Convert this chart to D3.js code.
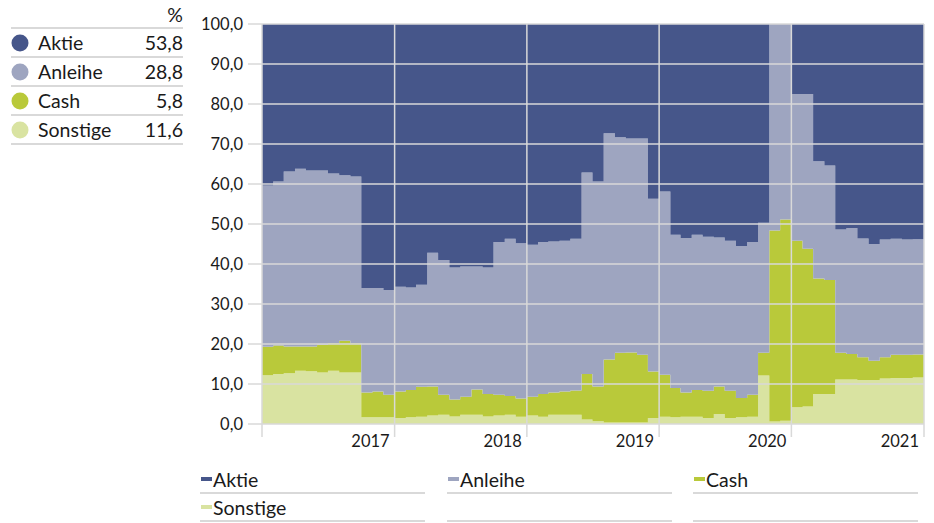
<!DOCTYPE html>
<html>
<head>
<meta charset="utf-8">
<script src="https://cdn.jsdelivr.net/npm/d3@7"></script>
<style>
  body { margin: 0; background: #fff; }
  svg { display: block; font-family: Lato, "Open Sans", sans-serif; }
</style>
</head>
<body>
<div id="chart"></div>
<script>
// monthly allocation in %, Jan 2016 .. Dec 2020
const keys = ['Aktie', 'Anleihe', 'Cash', 'Sonstige'];
const colors = ['#46568a', '#9ea5c0', '#b9c93a', '#d9e3a1'];
const latest = [53.8, 28.8, 5.8, 11.6];

const aktie = [
  40.4, 39.4, 36.9, 36.2, 36.6, 36.6, 37.4, 37.8, 38.1, 66.0, 66.0, 66.5,
  65.7, 65.9, 65.2, 57.2, 59.0, 60.9, 60.6, 60.6, 60.9, 54.5, 53.7, 54.8,
  55.2, 54.5, 54.4, 54.2, 53.7, 37.1, 39.4, 27.3, 28.3, 28.6, 28.6, 43.7,
  41.9, 52.7, 53.5, 52.7, 53.2, 53.4, 54.2, 55.5, 54.5, 49.7, 0.0, 0.0,
  17.5, 17.5, 34.3, 35.4, 51.4, 51.0, 53.6, 55.0, 53.9, 53.7, 53.9, 53.8
];
const anleihe = [
  40.3, 41.0, 43.7, 44.4, 44.0, 43.6, 42.4, 41.4, 41.7, 26.1, 25.9, 26.2,
  26.2, 25.6, 25.5, 33.4, 33.7, 33.0, 32.6, 30.8, 31.6, 38.2, 39.3, 38.8,
  38.0, 38.0, 37.7, 37.7, 37.9, 50.4, 51.2, 56.6, 53.9, 53.5, 54.1, 43.2,
  45.8, 38.3, 38.6, 38.8, 38.5, 37.2, 37.5, 38.0, 38.2, 32.5, 51.6, 48.9,
  36.7, 38.7, 29.3, 28.6, 30.8, 31.5, 29.7, 29.2, 29.4, 29.0, 28.8, 28.8
];
const cash = [
  7.1, 7.1, 6.7, 6.1, 6.2, 6.9, 6.9, 7.9, 7.3, 6.2, 6.4, 5.6,
  6.6, 6.8, 7.5, 7.3, 5.0, 4.2, 4.5, 6.3, 5.6, 5.2, 4.7, 4.6,
  4.7, 5.7, 5.6, 5.8, 6.1, 11.4, 8.7, 15.7, 17.4, 17.5, 16.9, 11.6,
  10.5, 7.3, 6.1, 6.7, 6.8, 6.9, 6.8, 4.8, 5.5, 5.7, 47.8, 50.3,
  41.6, 39.4, 28.9, 28.5, 6.7, 6.4, 5.7, 4.8, 5.3, 5.8, 5.8, 5.8
];
const sonstige = [
  12.2, 12.5, 12.7, 13.3, 13.2, 12.9, 13.3, 12.9, 12.9, 1.7, 1.7, 1.7,
  1.5, 1.7, 1.8, 2.1, 2.3, 1.9, 2.3, 2.3, 1.9, 2.1, 2.3, 1.8,
  2.1, 1.8, 2.3, 2.3, 2.3, 1.1, 0.7, 0.4, 0.4, 0.4, 0.4, 1.5,
  1.8, 1.7, 1.8, 1.8, 1.5, 2.5, 1.5, 1.7, 1.8, 12.1, 0.6, 0.8,
  4.2, 4.4, 7.5, 7.5, 11.1, 11.1, 11.0, 11.0, 11.4, 11.5, 11.5, 11.6
];
const yTicks = [0, 10, 20, 30, 40, 50, 60, 70, 80, 90, 100];

const W = 934, H = 523;
const plot = { left: 262, right: 924, top: 24, bottom: 424 };
const legendFont = '19.5px';

const locale = d3.formatLocale({ decimal: ',', thousands: '.', grouping: [3], currency: ['', ' €'] });
const fmt = locale.format('.1f');

const svg = d3.select('#chart').append('svg')
  .attr('width', W)
  .attr('height', H);

const start = new Date(2016, 0, 1);
const end = new Date(2021, 0, 1);
const months = d3.timeMonth.range(start, end);

const series = { Aktie: aktie, Anleihe: anleihe, Cash: cash, Sonstige: sonstige };
const rows = months.map((m, i) => {
  const r = { date: m };
  keys.forEach(k => r[k] = series[k][i]);
  return r;
});
// repeat last month so the step reaches the end of the axis
rows.push(Object.assign({}, rows[rows.length - 1], { date: end }));

const x = d3.scaleTime().domain([start, end]).range([plot.left, plot.right]);
const y = d3.scaleLinear().domain([0, 100]).range([plot.bottom, plot.top]);
const color = d3.scaleOrdinal().domain(keys).range(colors);

// bottom-up stacking: Sonstige, Cash, Anleihe, Aktie
const stack = d3.stack().keys(keys.slice().reverse());
const stacked = stack(rows);

const area = d3.area()
  .curve(d3.curveStepAfter)
  .x(d => x(d.data.date))
  .y0(d => y(Math.min(100, d[0])))
  .y1(d => y(Math.min(100, d[1])));

svg.append('g')
  .selectAll('path')
  .data(stacked)
  .join('path')
  .attr('fill', d => color(d.key))
  .attr('d', area);

// grid on top of the areas
const gridColor = '#d9d9d9';
svg.append('g')
  .selectAll('line')
  .data(yTicks)
  .join('line')
  .attr('x1', plot.left - 14)
  .attr('x2', plot.right)
  .attr('y1', d => y(d))
  .attr('y2', d => y(d))
  .attr('stroke', gridColor)
  .attr('stroke-width', 1.5);

const years = [start].concat(d3.timeYear.range(new Date(2017, 0, 1), d3.timeDay.offset(end, 1)));
svg.append('g')
  .selectAll('line')
  .data(years)
  .join('line')
  .attr('x1', d => x(d))
  .attr('x2', d => x(d))
  .attr('y1', plot.top)
  .attr('y2', plot.bottom + 13)
  .attr('stroke', gridColor)
  .attr('stroke-width', 1.5);

// y labels
svg.append('g')
  .selectAll('text')
  .data(yTicks)
  .join('text')
  .attr('x', 243)
  .attr('y', d => y(d))
  .attr('dy', '0.35em')
  .attr('text-anchor', 'end')
  .style('font-size', '16.5px')
  .style('fill', '#1a1a1a')
  .text(d => fmt(d));

// x labels, right-aligned against the year line
svg.append('g')
  .selectAll('text')
  .data(years.slice(1))
  .join('text')
  .attr('x', d => x(d) - 5)
  .attr('y', plot.bottom + 17)
  .attr('dy', '0.35em')
  .attr('text-anchor', 'end')
  .style('font-size', '16.5px')
  .style('fill', '#1a1a1a')
  .text(d => d.getFullYear());

// left legend table
const table = svg.append('g');
table.append('text')
  .attr('x', 183)
  .attr('y', 15)
  .attr('dy', '0.35em')
  .attr('text-anchor', 'end')
  .style('font-size', legendFont)
  .style('fill', '#1a1a1a')
  .text('%');
table.append('line')
  .attr('x1', 11).attr('x2', 183)
  .attr('y1', 28).attr('y2', 28)
  .attr('stroke', gridColor).attr('stroke-width', 2);

keys.forEach((k, i) => {
  const cy = 43 + i * 29;
  table.append('circle')
    .attr('cx', 20).attr('cy', cy).attr('r', 8.5)
    .attr('fill', color(k));
  table.append('text')
    .attr('x', 38).attr('y', cy)
    .attr('dy', '0.35em')
    .style('font-size', legendFont)
    .style('fill', '#1a1a1a')
    .text(k);
  table.append('text')
    .attr('x', 183).attr('y', cy)
    .attr('dy', '0.35em')
    .attr('text-anchor', 'end')
    .style('font-size', legendFont)
    .style('fill', '#1a1a1a')
    .text(fmt(latest[i]));
  table.append('line')
    .attr('x1', 11).attr('x2', 183)
    .attr('y1', cy + 14).attr('y2', cy + 14)
    .attr('stroke', gridColor).attr('stroke-width', 2);
});

// bottom legend, 3 columns
const colX = [200, 447, 693];
const colW = 225;
const legend = svg.append('g');
for (let r = 0; r < 2; r++) {
  colX.forEach(cx => {
    legend.append('line')
      .attr('x1', cx).attr('x2', cx + colW)
      .attr('y1', 493 + r * 28).attr('y2', 493 + r * 28)
      .attr('stroke', gridColor).attr('stroke-width', 2);
  });
}
keys.forEach((k, i) => {
  const cx = colX[i % 3];
  const cy = 480 + Math.floor(i / 3) * 28;
  legend.append('rect')
    .attr('x', cx + 1).attr('y', cy - 3)
    .attr('width', 11).attr('height', 4)
    .attr('fill', color(k));
  legend.append('text')
    .attr('x', cx + 13).attr('y', cy)
    .attr('dy', '0.35em')
    .style('font-size', legendFont)
    .style('fill', '#1a1a1a')
    .text(k);
});
</script>
</body>
</html>
